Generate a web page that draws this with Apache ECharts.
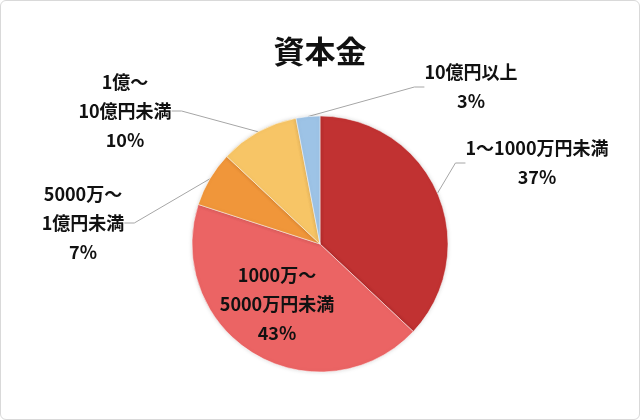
<!DOCTYPE html>
<html><head><meta charset="utf-8">
<script src="https://cdn.jsdelivr.net/npm/echarts@6/dist/echarts.min.js"></script>
<style>
html,body{margin:0;padding:0;background:#fff;}
#wrap{position:absolute;left:0;top:0;width:638px;height:418px;border:1px solid #d9d9d9;border-radius:6px;overflow:hidden;}
#c{width:638px;height:418px;}
</style></head>
<body><div id="wrap"><div id="c"></div></div>
<script>
const title = '資本金';
const categories = ['1～1000万円未満', '1000万～\n5000万円未満', '5000万～\n1億円未満', '1億～\n10億円未満', '10億円以上'];
const values = [37, 43, 7, 10, 3];
const colors = ['#C13232', '#EB6464', '#F0963A', '#F7C566', '#9DC3E6'];
const labelPos = [[536, 162], [276, 303], [82, 222], [124, 110], [470, 86]];

const chart = echarts.init(document.getElementById('c'));
chart.setOption({
  animation: false,
  title: {
    text: title, left: 'center', top: 30,
    textStyle: {fontFamily: 'Noto Sans CJK JP', fontWeight: 'bold', fontSize: 31, color: '#111'}
  },
  series: [{
    type: 'pie',
    center: [319, 243],
    radius: 128,
    startAngle: 90,
    clockwise: true,
    data: categories.map((n, i) => ({name: n, value: values[i], itemStyle: {color: colors[i]},
      label: i === 1 ? {position: 'inside'} : {},
      labelLine: {show: i !== 1}})),
    itemStyle: {borderColor: '#fff', borderWidth: 0.5, shadowBlur: 4, shadowColor: 'rgba(0,0,0,0.15)'},
    label: {
      formatter: p => p.name + '\n' + p.value + '%',
      fontFamily: 'Noto Sans CJK JP', fontWeight: 'bold', fontSize: 18, color: '#111',
      lineHeight: 29, align: 'center'
    },
    labelLine: {lineStyle: {color: '#a6a6a6', width: 1}, length: 20, length2: 10, smooth: false},
    labelLayout: p => ({x: labelPos[p.dataIndex][0], y: labelPos[p.dataIndex][1], align: 'center', verticalAlign: 'middle'})
  }]
});
</script></body></html>
